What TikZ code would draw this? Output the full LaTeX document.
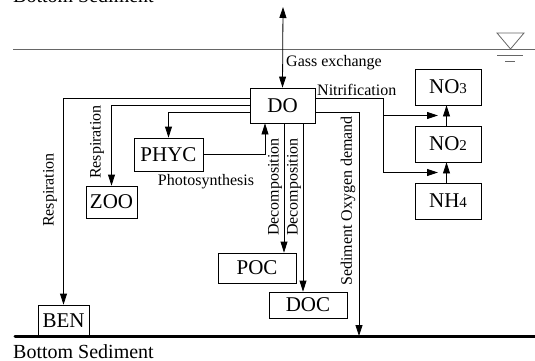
\documentclass[tikz,border=0pt]{standalone}
\usepackage{fontspec}
\setmainfont{Liberation Serif}
\usetikzlibrary{arrows.meta,calc}
\begin{document}
\begin{tikzpicture}[x=1pt,y=-1pt,
  box/.style={draw,line width=0.8pt,inner sep=0pt,font=\fontsize{21}{21}\selectfont},
  lbl/.style={inner sep=0pt,font=\fontsize{16}{16}\selectfont},
  ln/.style={line width=0.8pt},
  arr/.style={ln,-{Triangle[length=11pt,width=7pt]}},
  darr/.style={ln,{Triangle[length=11pt,width=7pt]}-{Triangle[length=11pt,width=7pt]}}]
\useasboundingbox (0,0) rectangle (535,361);
% water surface
\draw[black!60,line width=0.8pt] (13,49) -- (535,49);
\draw[black!60,line width=0.8pt] (497,33) -- (524,33) -- (510.5,49) -- cycle;
\draw[black!60,line width=0.8pt] (497,55) -- (523,55);
\draw[black!60,line width=0.8pt] (505,61) -- (515,61);
% bottom
\draw[line width=3pt,line cap=round] (15,336) -- (535,336);
\node[lbl,anchor=base west,font=\fontsize{20}{20}\selectfont] (bs) at (13,358) {Bottom Sediment};
\node[lbl,anchor=base west,font=\fontsize{20}{20}\selectfont] (bstop) at (13,3) {Bottom Sediment};
% boxes
\node[box,minimum width=65pt,minimum height=35pt] (DO) at (282.5,105.5) {DO};
\node[box,minimum width=66pt,minimum height=36pt] (NO3) at (448,87) {NO{\fontsize{15}{15}\selectfont 3}};
\node[box,minimum width=66pt,minimum height=36pt] (NO2) at (448,144) {NO{\fontsize{15}{15}\selectfont 2}};
\node[box,minimum width=66pt,minimum height=36pt] (NH4) at (448,201) {NH{\fontsize{15}{15}\selectfont 4}};
\node[box,minimum width=69pt,minimum height=33pt] (PHYC) at (168.5,154.5) {PHYC};
\node[box,minimum width=51pt,minimum height=32pt] (ZOO) at (111.5,202) {ZOO};
\node[box,minimum width=51pt,minimum height=31pt] (BEN) at (63.5,320.5) {BEN};
\node[box,minimum width=78pt,minimum height=30pt] (POC) at (257,268) {POC};
\node[box,minimum width=78pt,minimum height=26pt] (DOC) at (308,305) {DOC};
% gas exchange
\coordinate (gtop) at (283,7);
\draw[darr] (gtop) -- (DO.north);
\node[lbl,anchor=west] (gas) at (286,63) {Gass exchange};
% left side
\draw[arr] ([yshift=7.5pt]DO.west) -| (BEN.north);
\draw[arr] ([yshift=0.5pt]DO.west) -| (ZOO.north);
\draw[arr] ([yshift=-6.5pt]DO.west) -| (PHYC.north);
\draw[arr] (PHYC.east) -| ([xshift=-17.5pt]DO.south);
\node[lbl,rotate=90] (resp1) at (50,190) {Respiration};
\node[lbl,rotate=90] (resp2) at (97,142) {Respiration};
\node[lbl] (photo) at (206,182) {Photosynthesis};
% decomposition
\draw[arr] ([xshift=1.5pt]DO.south) -- ([xshift=1.5pt]DO.south |- POC.north);
\draw[arr] ([xshift=20.5pt]DO.south) -- ([xshift=20.5pt]DO.south |- DOC.north);
\node[lbl,rotate=90] (dec1) at (275,187) {Decomposition};
\node[lbl,rotate=90] (dec2) at (294,187) {Decomposition};
% sediment oxygen demand
\coordinate (sed) at (359,336);
\draw[arr] ([yshift=-6.5pt]DO.east) -| (sed);
\node[lbl,rotate=90] (sod) at (348,201) {Sediment Oxygen demand};
% nitrification
\node[lbl,anchor=west] (nit) at (317,90) {Nitrification};
\draw[arr] ([xshift=-1.5pt]NO2.north) -- ([xshift=-1.5pt]NO3.south);
\draw[arr] ([xshift=-1.5pt]NH4.north) -- ([xshift=-1.5pt]NO2.south);
\coordinate (m1) at ($(NO2.north)!0.5!(NO3.south)+(-10,0)$);
\coordinate (m2) at ($(NH4.north)!0.5!(NO2.south)+(-10,0)$);
\coordinate (j2) at (383,0 |- m2);
\draw[ln] ([yshift=7.5pt]DO.east) -| (j2);
\draw[arr] (j2) -- (m2);
\draw[arr] (j2 |- m1) -- (m1);
\end{tikzpicture}
\end{document}
